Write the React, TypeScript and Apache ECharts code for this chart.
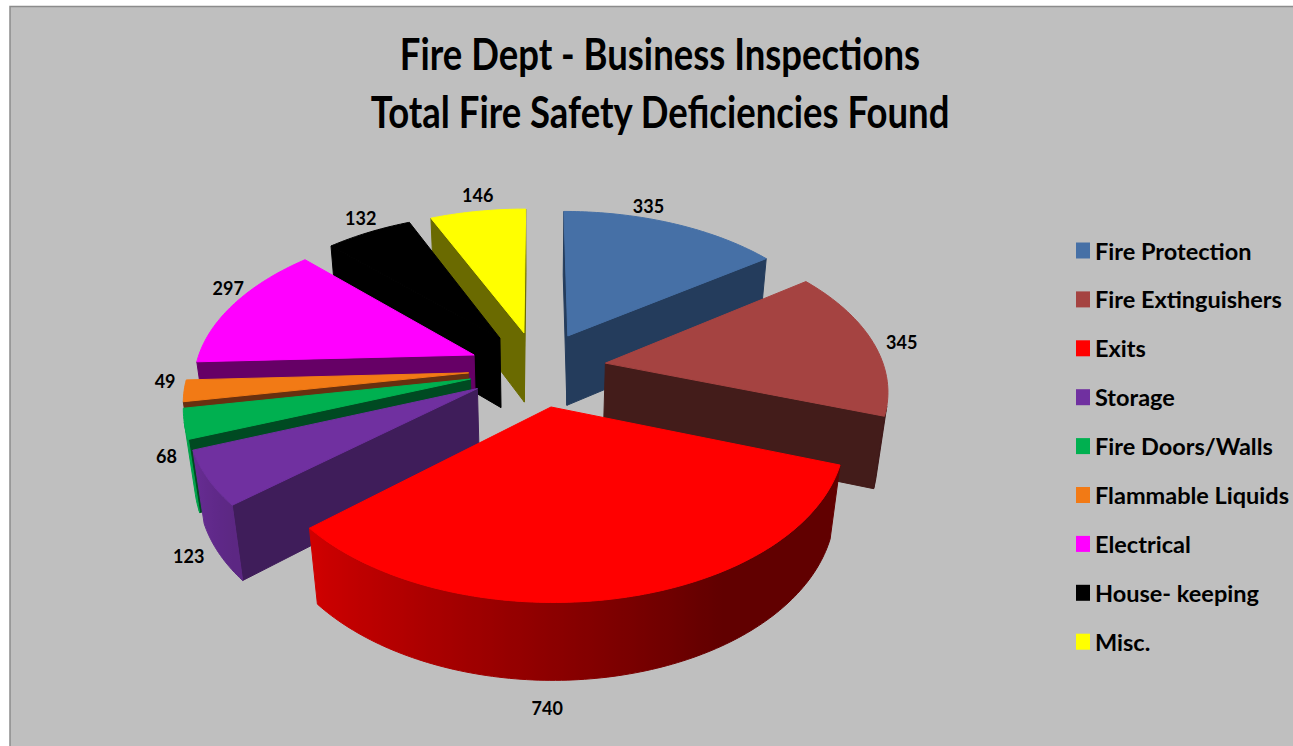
import React, { useEffect, useRef } from "react";
import * as echarts from "echarts";

const titleLines = ["Fire Dept - Business Inspections", "Total Fire Safety Deficiencies Found"];
const categories = ["Fire Protection", "Fire Extinguishers", "Exits", "Storage", "Fire Doors/Walls", "Flammable Liquids", "Electrical", "House- keeping", "Misc."];
const values = [335, 345, 740, 123, 68, 49, 297, 132, 146];

const topColors = ["#4670a6", "#a54341", "#ff0000", "#7030a0", "#00b050", "#f27a15", "#ff00ff", "#000000", "#ffff00"];
const faceColors = ["#243c5c", "#431c1a", "#600000", "#3f1d5a", "#004a22", "#673010", "#660066", "#000000", "#6a6a00"];
const labelNudge = [[-24, -17], [29, 0], [-71, 110], [-19, 78], [-18, 32], [-19, -10], [-6, -16], [-8, -14], [0, -16]];

// camera / solid of the 3-D pie
const CX = 537.5, CY = 368.5, R = 279, EXPLODE = 69, HEIGHT = 87;
const SIN_T = 0.547, COS_T = 0.837, DIST = 1533;
const RAD = Math.PI / 180;
const total = values.reduce((a, b) => a + b, 0);

function project(X: number, Y: number, Z: number): number[] {
  const s = DIST / (DIST + Y * COS_T - Z * SIN_T);
  return [CX + X * s, CY - (Y * SIN_T + Z * COS_T) * s];
}
function area(p: number[][]): number {
  let a = 0;
  for (let i = 0; i < p.length; i++) {
    const q = p[(i + 1) % p.length];
    a += p[i][0] * q[1] - q[0] * p[i][1];
  }
  return a;
}
function shade(hex: string, f: number): string {
  const n = parseInt(hex.slice(1), 16);
  const c = [(n >> 16) & 255, (n >> 8) & 255, n & 255].map((v) => Math.round(v * f));
  return `rgb(${c[0]},${c[1]},${c[2]})`;
}
function arcLight(deg: number): number {
  return Math.max(0.38, Math.min(0.92, 0.38 + (deg - 150) * 0.0056));
}

function sliceRange(i: number): number[] {
  let before = 0;
  for (let k = 0; k < i; k++) before += values[k];
  return [(before / total) * 360, ((before + values[i]) / total) * 360];
}

function makeRenderItem(i: number) {
  return (_params: any, api: any) => {
    const v = api.value(0);
    const [a0, a1] = sliceRange(i);
    const mid = ((a0 + a1) / 2) * RAD;
    const ox = EXPLODE * Math.sin(mid);
    const oy = EXPLODE * Math.cos(mid);
    const rim = (deg: number, z: number) =>
      project(ox + R * Math.sin(deg * RAD), oy + R * Math.cos(deg * RAD), z);
    const children: any[] = [];
    const poly = (points: number[][], fill: any) => ({
      type: "polygon",
      shape: { points },
      style: { fill, stroke: fill, lineWidth: 1 },
      silent: true,
    });
    const apexT = project(ox, oy, 0);
    const apexB = project(ox, oy, -HEIGHT);
    const startFace = [apexT, rim(a0, 0), rim(a0, -HEIGHT), apexB];
    const endFace = [rim(a1, 0), apexT, apexB, rim(a1, -HEIGHT)];
    if (area(startFace) < 0) children.push(poly(startFace, faceColors[i]));
    if (area(endFace) < 0) children.push(poly(endFace, faceColors[i]));
    const step = 1;
    // visible part of the curved wall, one polygon with a left-to-right shading
    const shown: number[] = [];
    for (let d = a0; d < a1 - 1e-6; d += step) {
      const e = Math.min(d + step, a1);
      if (area([rim(d, 0), rim(e, 0), rim(e, -HEIGHT), rim(d, -HEIGHT)]) < 0) {
        if (!shown.length) shown.push(d);
        shown.push(e);
      }
    }
    if (shown.length > 1) {
      const upper = shown.map((d) => rim(d, 0));
      const lower = shown.map((d) => rim(d, -HEIGHT));
      const outline = upper.concat(lower.slice().reverse());
      const xs = outline.map((p) => p[0]);
      const xMin = Math.min(...xs), xMax = Math.max(...xs);
      const stops = shown
        .map((d, k) => ({ offset: (upper[k][0] - xMin) / Math.max(1, xMax - xMin), color: shade(topColors[i], arcLight(d)) }))
        .sort((a, b) => a.offset - b.offset);
      children.push(poly(outline, { type: "linear", x: 0, y: 0, x2: 1, y2: 0, colorStops: stops }));
    }
    const top: number[][] = [apexT];
    for (let d = a0; d < a1; d += step) top.push(rim(d, 0));
    top.push(rim(a1, 0));
    children.push(poly(top, topColors[i]));
    const anchor = project(((R + EXPLODE) * ox) / EXPLODE, ((R + EXPLODE) * oy) / EXPLODE, 0);
    children.push({
      type: "text",
      silent: true,
      style: {
        x: anchor[0] + labelNudge[i][0],
        y: anchor[1] + labelNudge[i][1],
        text: String(v),
        fill: "#000",
        font: "bold 18px Lato",
        align: "center",
        verticalAlign: "middle",
      },
    });
    return { type: "group", children };
  };
}

const depthRank = values
  .map((_, i) => {
    const [a0, a1] = sliceRange(i);
    return { i, c: Math.cos(((a0 + a1) / 2) * RAD) };
  })
  .sort((a, b) => b.c - a.c)
  .map((o) => o.i);

const titleStyle = (text: string) => ({
  text,
  fill: "#000",
  font: "bold 36.5px Lato",
  align: "center",
  verticalAlign: "middle",
});

export default function App() {
  const ref = useRef<HTMLDivElement>(null);
  useEffect(() => {
    document.body.style.margin = "0";
    document.body.style.background = "#fff";
    const chart = echarts.init(ref.current!, undefined, { renderer: "svg" });
    chart.setOption({
      animation: false,
      backgroundColor: "#ffffff",
      legend: {
        orient: "vertical",
        left: 1076,
        top: 238.5,
        padding: 0,
        itemWidth: 14,
        itemHeight: 16,
        itemGap: 24.9,
        icon: "rect",
        selectedMode: false,
        data: categories,
        textStyle: { fontFamily: "Lato", fontWeight: "bold", fontSize: 23.5, color: "#000" },
      },
      graphic: [
        {
          type: "rect",
          z: -10,
          silent: true,
          shape: { x: 10, y: 6.5, width: 1300, height: 760 },
          style: { fill: "#bfbfbf", stroke: "#8c8c8c", lineWidth: 1.5 },
        },
        { type: "text", z: 20, x: 660, y: 54, scaleY: 1.18, silent: true, style: titleStyle(titleLines[0]) },
        { type: "text", z: 20, x: 660, y: 111.5, scaleY: 1.18, silent: true, style: titleStyle(titleLines[1]) },
      ],
      series: categories.map((name, i) => ({
        type: "custom",
        name,
        coordinateSystem: "none",
        z: 3 + depthRank.indexOf(i),
        itemStyle: { color: topColors[i] },
        encode: { value: 0 },
        data: [[values[i]]],
        renderItem: makeRenderItem(i),
      })),
    });
    return () => chart.dispose();
  }, []);
  return <div ref={ref} style={{ width: 1293, height: 746 }} />;
}
